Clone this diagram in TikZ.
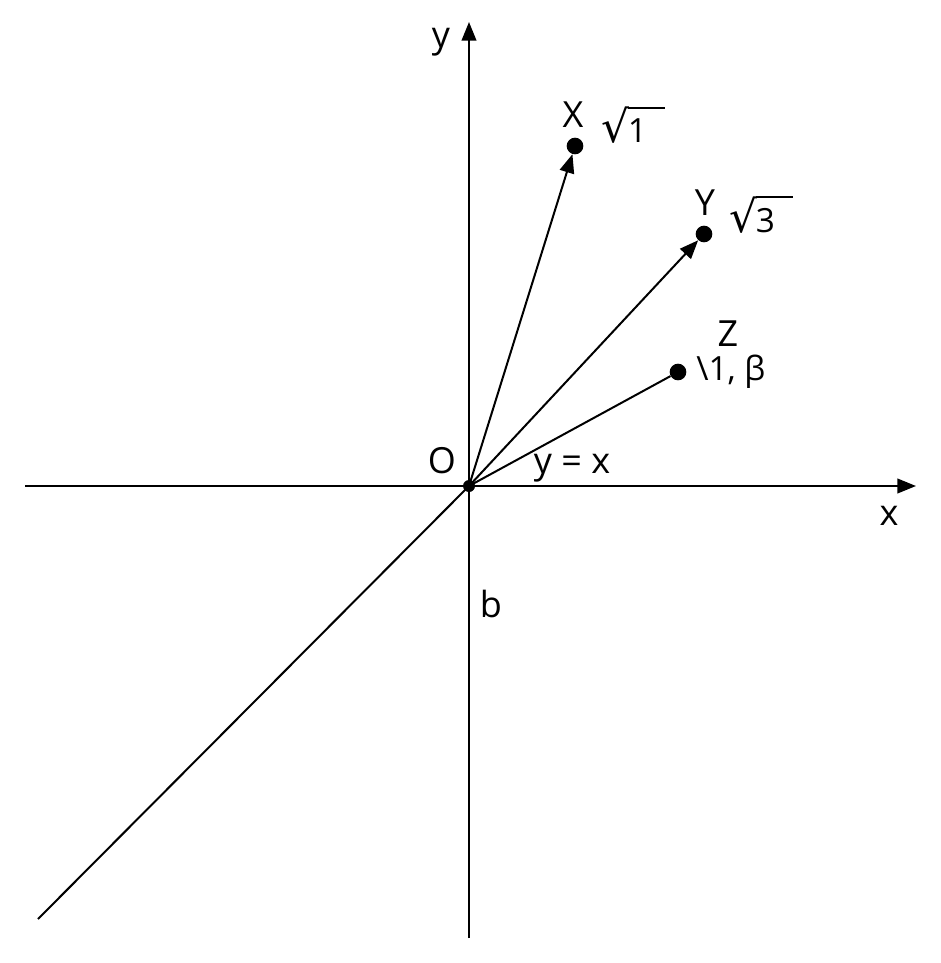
\documentclass[tikz,border=0pt]{standalone}
\usepackage{fontspec}
\setmainfont{Open Sans}
\newfontfamily\symfont{DejaVu Sans}
\usetikzlibrary{arrows.meta}
\newsavebox\radbox
\newcommand{\radlabel}[1]{\sbox\radbox{\fontsize{33}{38}\symfont √}\usebox\radbox\kern-1pt\rlap{\raisebox{\dimexpr\ht\radbox-1.5pt\relax}{\rule{28pt}{1.5pt}}}#1}
\tikzset{
  axis/.style={line width=1.5pt, -{Triangle[length=14pt,width=11pt]}},
  vec/.style={line width=1.5pt, -{Triangle[length=14pt,width=11pt]}},
  plain/.style={line width=1.5pt},
  pt/.style={circle, fill=black, inner sep=0pt, minimum size=12.5pt},
  lbl/.style={font=\fontsize{27}{32}\selectfont, inner sep=0pt},
  rad/.style={font=\fontsize{25}{30}\selectfont, inner sep=0pt, anchor=base west},
}
\begin{document}
\begin{tikzpicture}[x=0.75pt,y=-0.75pt]
\useasboundingbox (0,0) rectangle (940,963);
\coordinate (O) at (469,486);
\coordinate (xs) at (25,486);
\coordinate (xe) at (916,486);
\coordinate (ys) at (469,938);
\coordinate (ye) at (469,22);
\coordinate (d) at (38,919);
\draw[axis] (xs) -- (xe);
\draw[axis] (ys) -- (ye);
\draw[plain] (O) -- (d);
\node[pt] (X) at (575,146) {};
\node[pt] (Y) at (704,234) {};
\node[pt] (Z) at (678,372) {};
\draw[vec] (O) -- (X);
\draw[vec] (O) -- (Y);
\draw[plain] (O) -- (Z);
\fill (O) circle (6);
\node[lbl] (ly) at (441,42) {y};
\node[lbl] (lx) at (889,516) {x};
\node[lbl] (lX) at (573,115) {X};
\node[lbl] (lY) at (705,203) {Y};
\node[lbl] (lZ) at (728,334) {Z};
\node[lbl] (lO) at (442,461) {O};
\node[lbl,anchor=base] (lyx) at (572,473) {y = x};
\node[lbl] (lb) at (491,604) {b};
\node[rad] (r1) at (601,143) {\radlabel{1}};
\node[rad] (r3) at (729,232) {\radlabel{3}};
\node[rad] (zc) at (696,380) {\textbackslash1, β};
\end{tikzpicture}
\end{document}
